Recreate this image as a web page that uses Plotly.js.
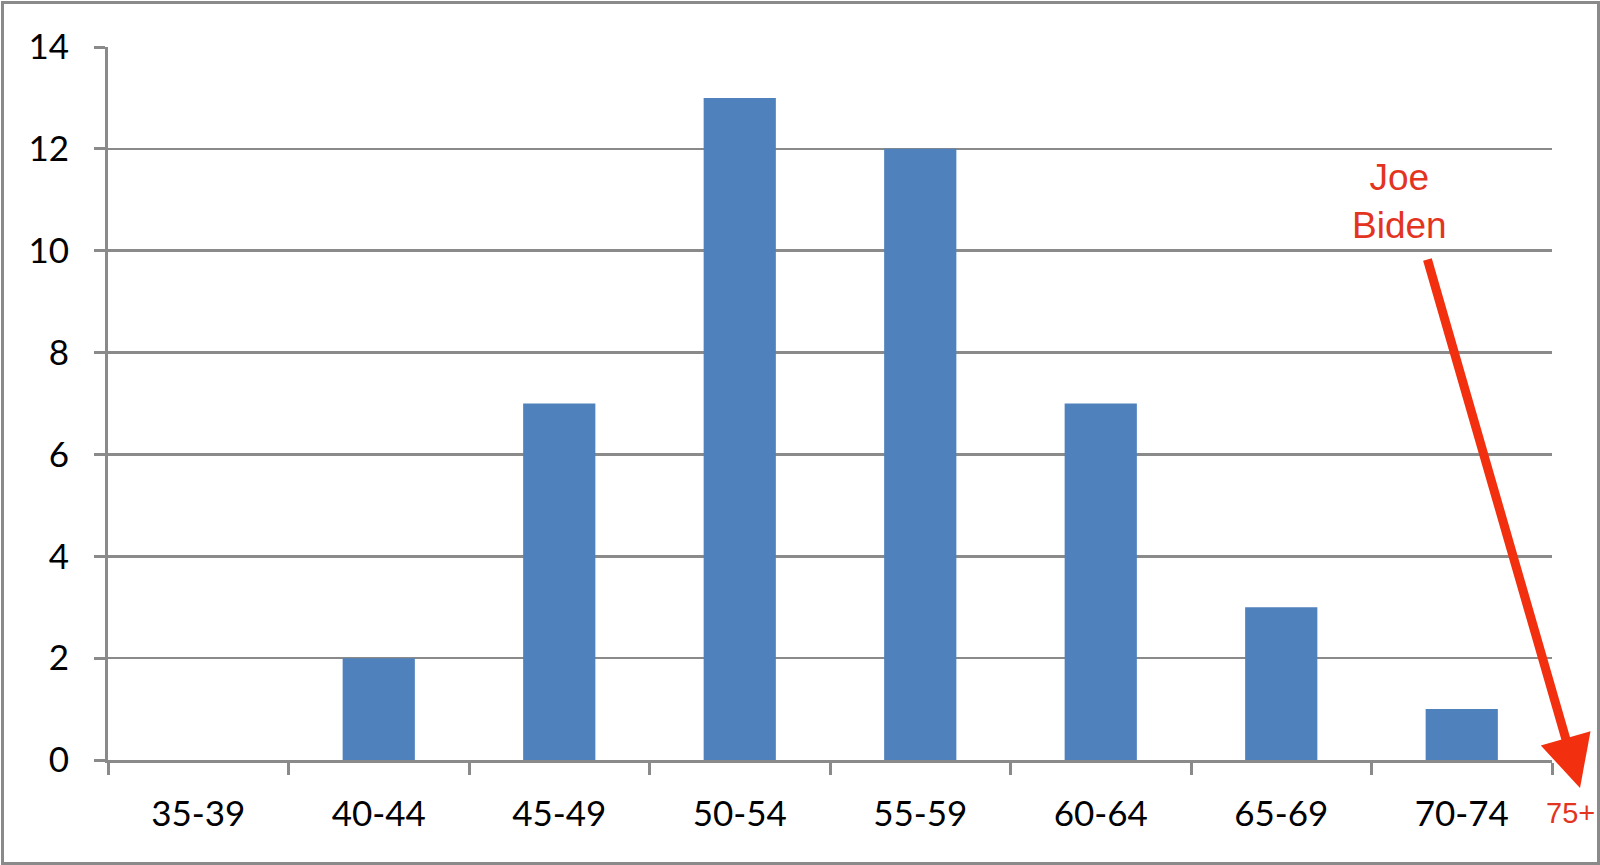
<!DOCTYPE html>
<html>
<head>
<meta charset="utf-8">
<script src="https://cdn.plot.ly/plotly-3.0.1.min.js"></script>
<style>
  html, body { margin: 0; padding: 0; background: #fff; }
  #frame { position: absolute; left: 1px; top: 1px; width: 1593px; height: 858px; border: 3px solid #8a8a8a; }
  #chart { position: absolute; left: 0; top: 0; width: 1600px; height: 865px; }
</style>
</head>
<body>
<div id="chart"></div>
<div id="frame"></div>
<script>
// age groups and counts
var ageGroups = ['35-39', '40-44', '45-49', '50-54', '55-59', '60-64', '65-69', '70-74'];
var counts = [0, 2, 7, 13, 12, 7, 3, 1];
var yTicks = [0, 2, 4, 6, 8, 10, 12, 14];

var red = '#f2300f';
var gray = '#8a8a8a';

var data = [{
  type: 'bar',
  x: ageGroups,
  y: counts,
  marker: { color: '#4f81bd' },
  hoverinfo: 'x+y'
}];

var layout = {
  width: 1600,
  height: 865,
  margin: { l: 108, r: 48, t: 47, b: 105 },
  paper_bgcolor: 'rgba(0,0,0,0)',
  plot_bgcolor: 'rgba(0,0,0,0)',
  showlegend: false,
  bargap: 0.6,
  font: { family: 'Lato, sans-serif', color: '#000' },
  xaxis: {
    type: 'category',
    tickson: 'boundaries',
    ticks: 'outside',
    ticklen: 12,
    tickwidth: 3,
    tickcolor: gray,
    showline: true,
    linecolor: gray,
    linewidth: 3,
    showgrid: false,
    tickfont: { size: 35, family: 'Lato, sans-serif', color: '#000' },
    ticklabelstandoff: 21
  },
  yaxis: {
    range: [0, 14],
    tickvals: yTicks,
    ticks: 'outside',
    ticklen: 11,
    tickwidth: 3,
    tickcolor: gray,
    showline: true,
    linecolor: gray,
    linewidth: 3,
    showgrid: true,
    gridcolor: gray,
    gridwidth: 2.5,
    zeroline: false,
    tickfont: { size: 35, family: 'Lato, sans-serif', color: '#000' },
    ticklabelstandoff: 18
  },
  annotations: [
    {
      xref: 'paper', yref: 'paper',
      x: 1.0194, y: -0.0393,
      axref: 'pixel', ayref: 'pixel',
      ax: -153, ay: -530,
      text: '',
      showarrow: true,
      arrowhead: 2,
      arrowsize: 1.15,
      arrowwidth: 9,
      arrowcolor: red
    },
    {
      xref: 'paper', yref: 'paper',
      x: 0.8947, y: 0.784,
      xanchor: 'center', yanchor: 'middle',
      text: 'Joe<br>Biden',
      showarrow: false,
      font: { family: 'Liberation Sans, Arial, sans-serif', size: 37, color: '#e3341f' }
    },
    {
      xref: 'paper', yref: 'paper',
      x: 1.0125, y: -0.074,
      xanchor: 'center', yanchor: 'middle',
      text: '75+',
      showarrow: false,
      font: { family: 'Liberation Sans, Arial, sans-serif', size: 29, color: '#e3341f' }
    }
  ]
};

Plotly.newPlot('chart', data, layout, { displayModeBar: false, staticPlot: true });
</script>
</body>
</html>
